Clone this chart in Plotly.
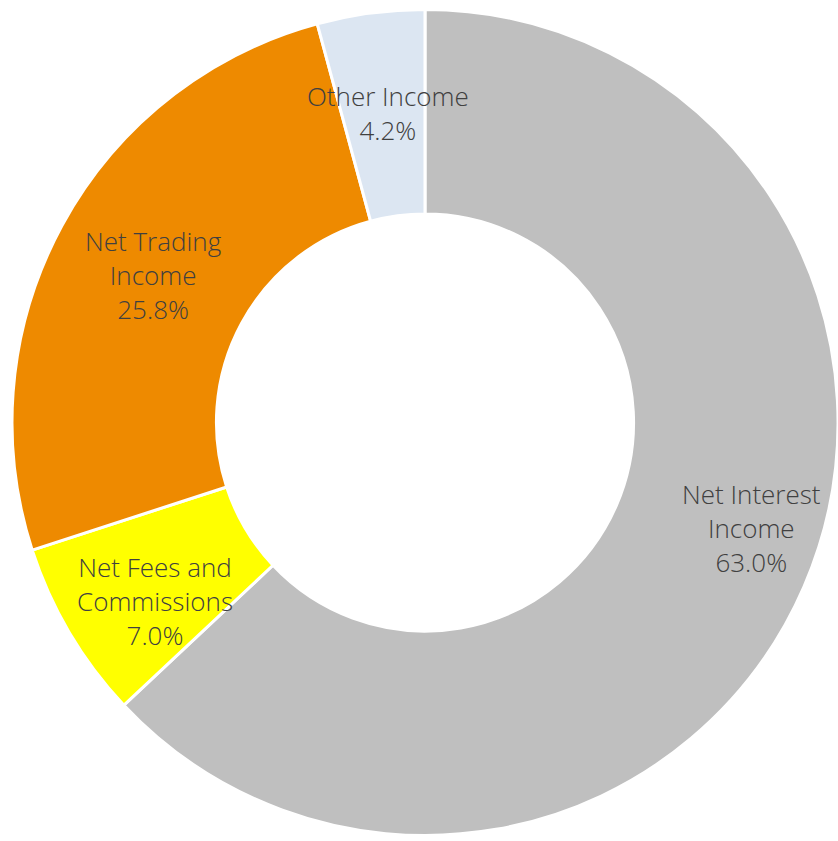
import math
import plotly.graph_objects as go

# Data
categories = ["Net Interest Income", "Net Fees and Commissions", "Net Trading Income", "Other Income"]
label_lines = ["Net Interest<br>Income", "Net Fees and<br>Commissions", "Net Trading<br>Income", "Other Income"]
shares = [63.0, 7.0, 25.8, 4.2]
colors = ["#BFBFBF", "#FFFF00", "#EE8A00", "#DCE6F2"]

# Label placement (fraction of outer radius, angular nudge in degrees)
label_radius = [0.832, 0.784, 0.748, 0.755]
label_turn = [-5.5, -2.9, 0.0, 0.8]

W, H = 838, 841
ml, mr, mt, mb = 12, 0, 6, 2
pw, ph = W - ml - mr, H - mt - mb
R = min(pw, ph) / 2
hole = 0.505

fig = go.Figure(go.Pie(
    labels=categories,
    values=shares,
    marker=dict(colors=colors, line=dict(color="white", width=3)),
    hole=hole,
    sort=False,
    direction="clockwise",
    rotation=0,
    textinfo="none",
    showlegend=False,
))

total = sum(shares)
cum = 0.0
annotations = []
for lab, v, lr, lt in zip(label_lines, shares, label_radius, label_turn):
    mid = (cum + v / 2) / total * 2 * math.pi + math.radians(lt)
    cum += v
    x = 0.5 + lr * R * math.sin(mid) / pw
    y = 0.5 + lr * R * math.cos(mid) / ph
    annotations.append(dict(
        x=x, y=y, xref="paper", yref="paper",
        text=f"{lab}<br>{v:.1f}%", showarrow=False,
        font=dict(family="Open Sans, sans-serif", size=26, color="#404040", weight=300),
        align="center", xanchor="center", yanchor="middle",
    ))

fig.update_layout(
    width=W, height=H,
    margin=dict(l=ml, r=mr, t=mt, b=mb),
    paper_bgcolor="white",
    plot_bgcolor="white",
    annotations=annotations,
)

fig.write_html(
    "out.html",
    config={"displayModeBar": False},
    post_script="document.body.style.margin='0';document.body.style.overflow='hidden';",
)
